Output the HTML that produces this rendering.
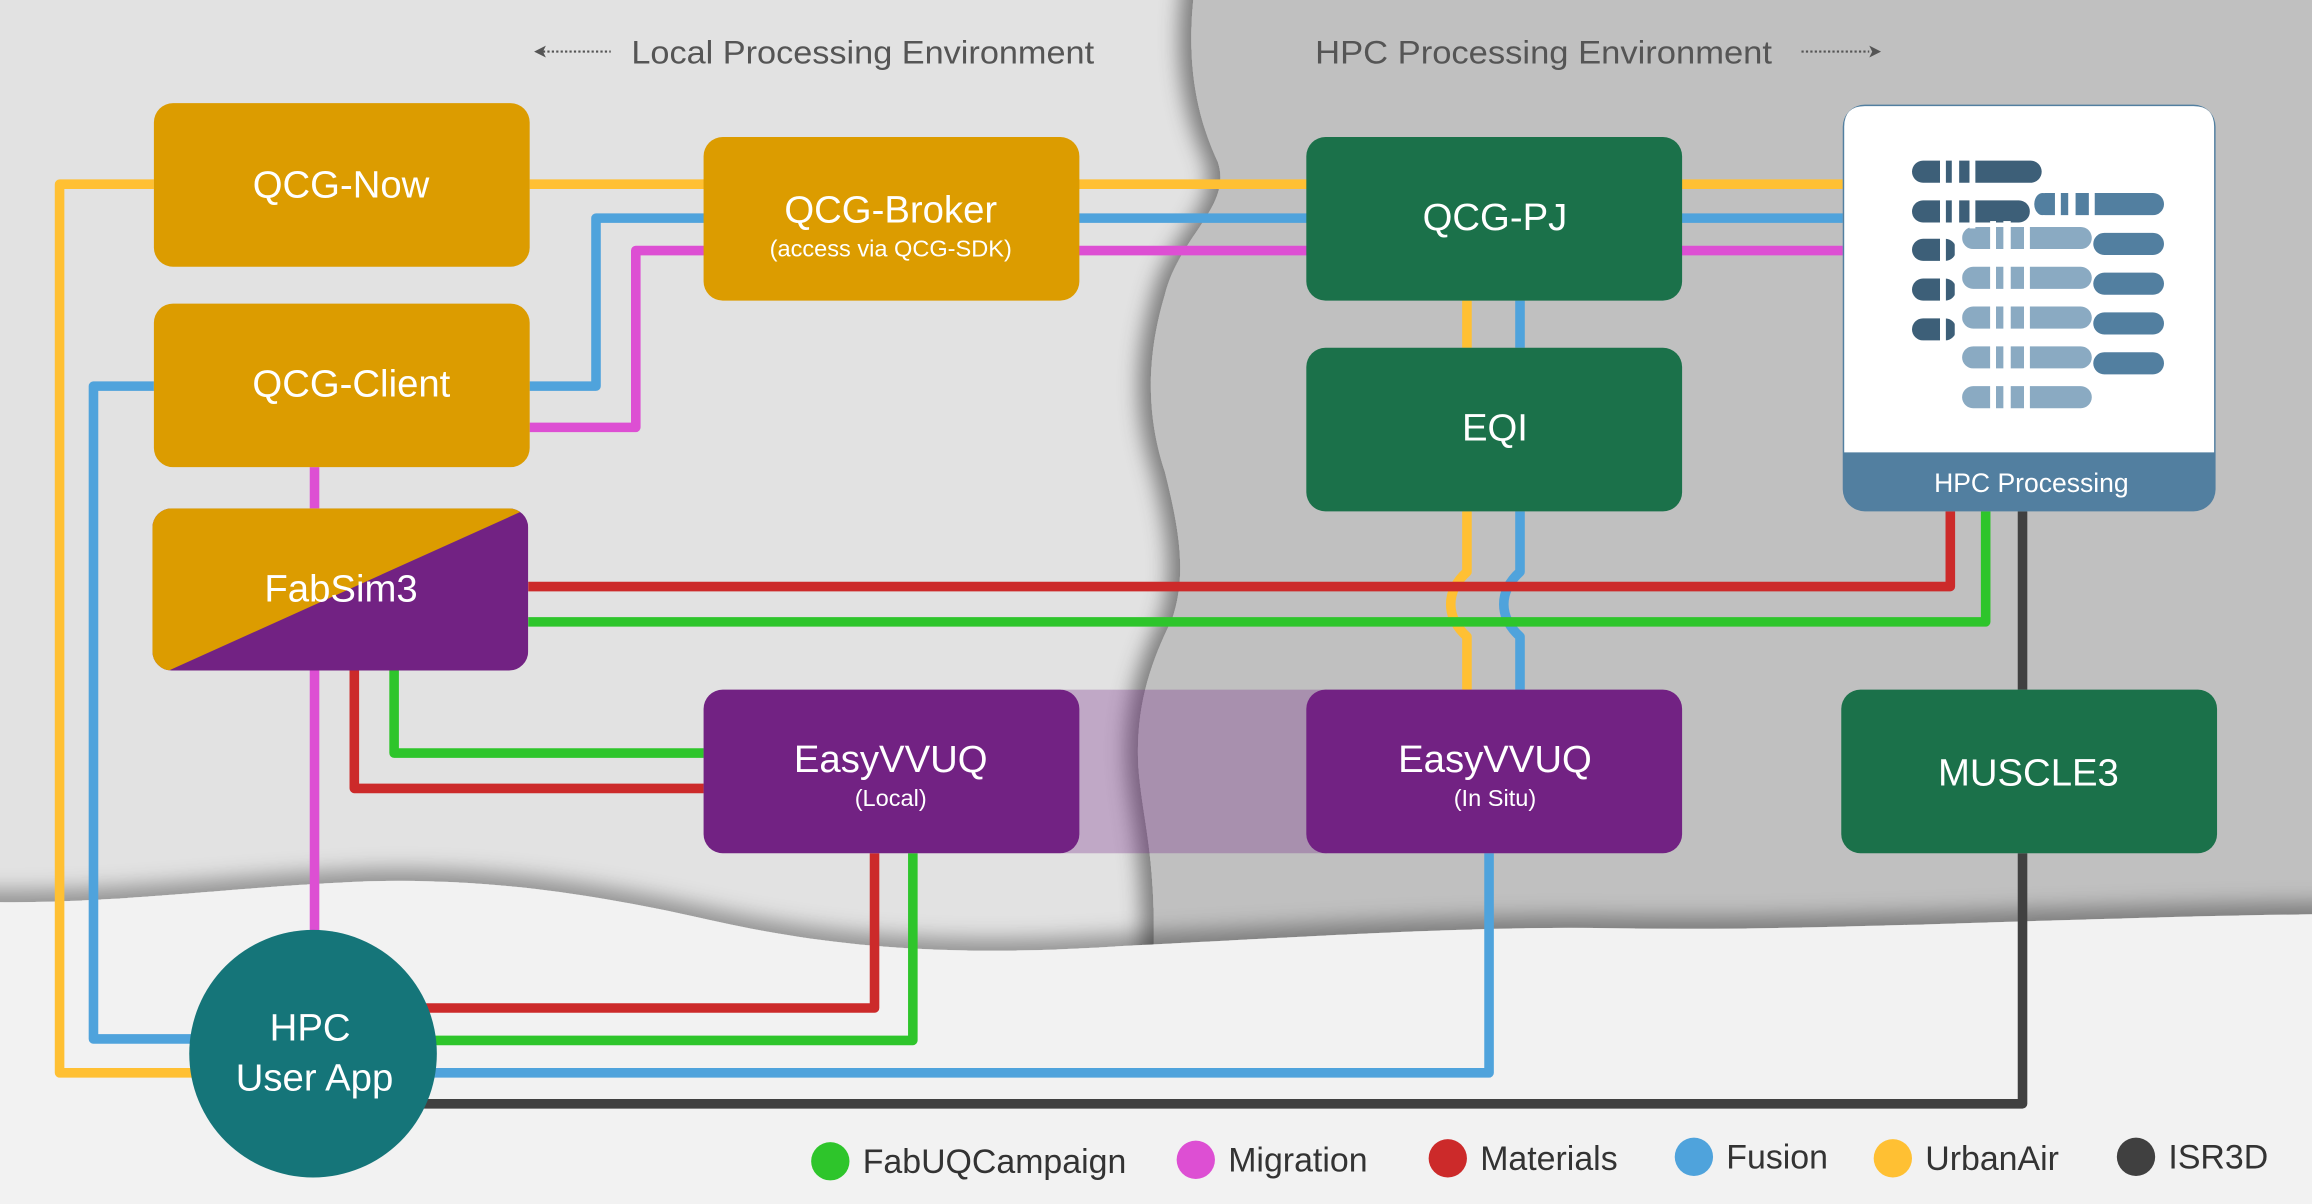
<!DOCTYPE html>
<html><head><meta charset="utf-8"><style>
html,body{margin:0;padding:0;background:#e2e2e2;}
svg{display:block;}
text{font-family:"Liberation Sans",sans-serif;}
</style></head><body>
<svg width="2312" height="1204" viewBox="0 0 1568 817" xmlns="http://www.w3.org/2000/svg">
<defs>
<filter id="ds" x="-20%" y="-20%" width="140%" height="140%">
<feDropShadow dx="-8" dy="0" stdDeviation="7" flood-color="#000" flood-opacity="0.45"/>
</filter>
<filter id="dsb" x="-20%" y="-20%" width="140%" height="140%">
<feDropShadow dx="0" dy="-8" stdDeviation="7" flood-color="#000" flood-opacity="0.35"/>
</filter>
</defs>
<rect width="1568" height="817" fill="#e2e2e2"/>
<!-- HPC env region with wavy left edge -->
<path filter="url(#ds)" d="M812 -20 C802 40 812 80 826 110 C836 140 800 160 790 200 C775 250 780 290 790 320 C800 360 805 390 795 420 C780 450 770 480 772 520 C775 560 785 580 782 660 L1600 660 L1600 -20 Z" fill="#c0c0c0"/>
<!-- bottom band -->
<path filter="url(#dsb)" d="M-20 612 C80 614 150 602 250 598 C330 596 400 606 480 624 C560 642 640 650 760 642 C900 635 1000 628 1100 630 C1250 632 1400 622 1600 620 L1600 840 L-20 840 Z" fill="#f2f2f2"/>

<!-- headers -->
<text x="428" y="43" font-size="22" fill="#555" textLength="314" lengthAdjust="spacingAndGlyphs">Local Processing Environment</text>
<text x="892" y="43" font-size="22" fill="#555" textLength="310" lengthAdjust="spacingAndGlyphs">HPC Processing Environment</text>
<line x1="368" y1="35" x2="414" y2="35" stroke="#555" stroke-width="1.5" stroke-dasharray="1.5 1.5"/>
<path d="M362 35 L370 31 L368 35 L370 39 Z" fill="#555"/>
<line x1="1222" y1="35" x2="1268" y2="35" stroke="#555" stroke-width="1.5" stroke-dasharray="1.5 1.5"/>
<path d="M1276 35 L1268 31 L1270 35 L1268 39 Z" fill="#555"/>

<!-- translucent band -->
<rect x="720" y="468" width="180" height="111" fill="#722283" fill-opacity="0.3"/>

<g fill="none" stroke-width="6.5" stroke-linejoin="round">
<path d="M104 125 H40 V728 H140" stroke="#ffc033"/>
<path d="M359 125 H1250" stroke="#ffc033"/>
<path d="M995 204 V236" stroke="#ffc033"/>
<path d="M995 347 V388 Q984 398 984 410 Q984 422 995 432 V468" stroke="#ffc033"/>
<path d="M104 262 H63 V705 H140" stroke="#4fa3dc"/>
<path d="M359 262 H404 V148 H1250" stroke="#4fa3dc"/>
<path d="M1031 204 V236" stroke="#4fa3dc"/>
<path d="M1031 347 V388 Q1020 398 1020 410 Q1020 422 1031 432 V468" stroke="#4fa3dc"/>
<path d="M1010 579 V728 H280" stroke="#4fa3dc"/>
<path d="M359 290 H431 V170 H1250" stroke="#dd4fd3"/>
<path d="M213 317 V345" stroke="#dd4fd3"/>
<path d="M213 455 V640" stroke="#dd4fd3"/>
<path d="M358 398 H1323 V347" stroke="#cc2a2a"/>
<path d="M240 455 V535 H477" stroke="#cc2a2a"/>
<path d="M593 579 V684 H280" stroke="#cc2a2a"/>
<path d="M358 422 H1347 V347" stroke="#2ec52b"/>
<path d="M267 455 V511 H477" stroke="#2ec52b"/>
<path d="M619 579 V706 H280" stroke="#2ec52b"/>
<path d="M1372 347 V468" stroke="#404040"/>
<path d="M1372 579 V749 H280" stroke="#404040"/>
</g>

<!-- nodes -->
<rect x="104" y="70" width="255" height="111" rx="13" fill="#dc9c00"/>
<text x="231" y="134" font-size="26" fill="#fff" text-anchor="middle">QCG-Now</text>
<rect x="104" y="206" width="255" height="111" rx="13" fill="#dc9c00"/>
<text x="238" y="269" font-size="26" fill="#fff" text-anchor="middle">QCG-Client</text>
<clipPath id="fc"><rect x="103" y="345" width="255" height="110" rx="13"/></clipPath>
<g clip-path="url(#fc)">
<rect x="103" y="345" width="255" height="110" fill="#722283"/>
<path d="M103 345 H358 L103 460 Z" fill="#dc9c00"/>
</g>
<text x="231" y="408" font-size="26" fill="#fff" text-anchor="middle">FabSim3</text>
<rect x="477" y="93" width="255" height="111" rx="13" fill="#dc9c00"/>
<text x="604" y="151" font-size="26" fill="#fff" text-anchor="middle">QCG-Broker</text>
<text x="604" y="174" font-size="16" fill="#fff" text-anchor="middle">(access via QCG-SDK)</text>
<rect x="886" y="93" width="255" height="111" rx="13" fill="#1b714a"/>
<text x="1014" y="156" font-size="26" fill="#fff" text-anchor="middle">QCG-PJ</text>
<rect x="886" y="236" width="255" height="111" rx="13" fill="#1b714a"/>
<text x="1014" y="299" font-size="26" fill="#fff" text-anchor="middle">EQI</text>
<rect x="477" y="468" width="255" height="111" rx="13" fill="#722283"/>
<text x="604" y="524" font-size="26" fill="#fff" text-anchor="middle">EasyVVUQ</text>
<text x="604" y="547" font-size="16" fill="#fff" text-anchor="middle">(Local)</text>
<rect x="886" y="468" width="255" height="111" rx="13" fill="#722283"/>
<text x="1014" y="524" font-size="26" fill="#fff" text-anchor="middle">EasyVVUQ</text>
<text x="1014" y="547" font-size="16" fill="#fff" text-anchor="middle">(In Situ)</text>
<rect x="1249" y="468" width="255" height="111" rx="13" fill="#1b714a"/>
<text x="1376" y="533" font-size="26" fill="#fff" text-anchor="middle">MUSCLE3</text>

<!-- HPC processing box -->
<rect x="1250" y="71" width="253" height="276" rx="15" fill="#527fa0"/>
<path d="M1251 307 V86 Q1251 72 1265 72 H1488 Q1502 72 1502 86 V307 Z" fill="#fff"/>
<text x="1378" y="334" font-size="18" fill="#fff" text-anchor="middle">HPC Processing</text>
<g>
<g fill="#3d5f78">
<rect x="1297" y="109" width="88" height="15" rx="7.5"/>
<rect x="1297" y="136" width="80" height="15" rx="7.5"/>
<rect x="1297" y="162" width="30" height="15" rx="7.5"/>
<rect x="1297" y="189" width="30" height="15" rx="7.5"/>
<rect x="1297" y="216" width="30" height="15" rx="7.5"/>
</g>
<g fill="#8aaac2">
<rect x="1331" y="154" width="88" height="15" rx="7.5"/>
<rect x="1331" y="181" width="88" height="15" rx="7.5"/>
<rect x="1331" y="208" width="88" height="15" rx="7.5"/>
<rect x="1331" y="235" width="88" height="15" rx="7.5"/>
<rect x="1331" y="262" width="88" height="15" rx="7.5"/>
</g>
<g fill="#527fa0">
<rect x="1380" y="131" width="88" height="15" rx="7.5"/>
<rect x="1420" y="158" width="48" height="15" rx="7.5"/>
<rect x="1420" y="185" width="48" height="15" rx="7.5"/>
<rect x="1420" y="212" width="48" height="15" rx="7.5"/>
<rect x="1420" y="239" width="48" height="15" rx="7.5"/>
</g>
<g fill="#fff">
<rect x="1316" y="105" width="4" height="50"/><rect x="1324" y="105" width="5" height="50"/><rect x="1336" y="105" width="4" height="50"/>
<rect x="1316" y="160" width="4" height="75"/><rect x="1326" y="160" width="5" height="75"/>
<rect x="1350" y="150" width="4" height="130"/><rect x="1359" y="150" width="5" height="130"/><rect x="1373" y="150" width="4" height="130"/>
<rect x="1394" y="128" width="4" height="20"/><rect x="1403" y="128" width="5" height="20"/><rect x="1417" y="128" width="4" height="20"/>
<rect x="1377" y="128" width="3" height="22"/>
</g>
<rect x="1380" y="131" width="11" height="15" rx="7.5" fill="#527fa0"/>
</g>

<circle cx="212" cy="715" r="84" fill="#157579"/>
<text x="210" y="706" font-size="26" fill="#fff" text-anchor="middle">HPC</text>
<text x="213" y="740" font-size="26" fill="#fff" text-anchor="middle">User App</text>

<g font-size="23" fill="#333">
<circle cx="563" cy="788" r="13" fill="#2ec52b"/><text x="585" y="796">FabUQCampaign</text>
<circle cx="811" cy="787" r="13" fill="#dd4fd3"/><text x="833" y="795">Migration</text>
<circle cx="982" cy="786" r="13" fill="#cc2a2a"/><text x="1004" y="794">Materials</text>
<circle cx="1149" cy="785" r="13" fill="#4fa3dc"/><text x="1171" y="793">Fusion</text>
<circle cx="1284" cy="786" r="13" fill="#ffc033"/><text x="1306" y="794">UrbanAir</text>
<circle cx="1449" cy="785" r="13" fill="#404040"/><text x="1471" y="793">ISR3D</text>
</g>
</svg>
</body></html>
